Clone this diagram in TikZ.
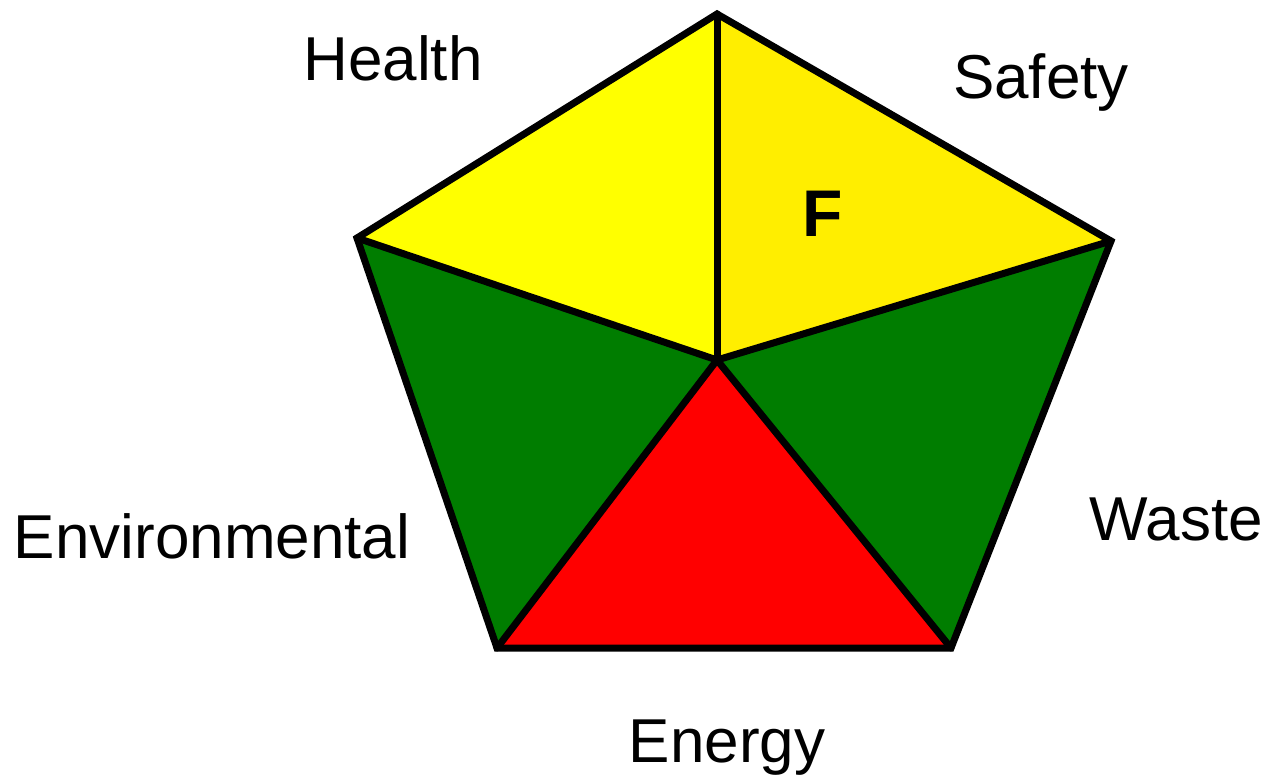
\documentclass[tikz,border=0pt]{standalone}
\usepackage{fontspec}
\setmainfont{Liberation Sans}
\definecolor{pgreen}{RGB}{0,125,0}
\definecolor{pyellow}{RGB}{255,255,0}
\definecolor{syellow}{RGB}{255,238,0}
\definecolor{pred}{RGB}{255,0,0}
\begin{document}
\begin{tikzpicture}[x=1pt,y=-1pt,
  lbl/.style={anchor=base,inner sep=0pt,font=\fontsize{62}{74}\selectfont},
  edge/.style={line width=7pt,line join=miter,line cap=round}]
\useasboundingbox (0,0) rectangle (1268,777);
\coordinate (T) at (717,14);
\coordinate (R) at (1111,241);
\coordinate (BR) at (951,648);
\coordinate (BL) at (497,648);
\coordinate (L) at (357,238);
\coordinate (C) at (717,360);
\fill[pyellow] (L) -- (T) -- (C) -- cycle;
\fill[syellow] (T) -- (R) -- (C) -- cycle;
\fill[pgreen] (R) -- (BR) -- (C) -- cycle;
\fill[pred] (BR) -- (BL) -- (C) -- cycle;
\fill[pgreen] (BL) -- (L) -- (C) -- cycle;
\draw[edge] (T) -- (R) -- (BR) -- (BL) -- (L) -- cycle;
\draw[edge] (C) -- (T);
\draw[edge] (C) -- (R);
\draw[edge] (C) -- (BR);
\draw[edge] (C) -- (BL);
\draw[edge] (C) -- (L);
\node[lbl] (health) at (393,80) {Health};
\node[lbl] (safety) at (1041,98) {Safety};
\node[lbl] (waste) at (1176,540) {Waste};
\node[lbl] (env) at (212,558) {Environmental};
\node[lbl] (energy) at (727,762) {Energy};
\node[anchor=base,inner sep=0pt,font=\fontsize{66}{78}\selectfont\bfseries] (f) at (823,236) {F};
\end{tikzpicture}
\end{document}
